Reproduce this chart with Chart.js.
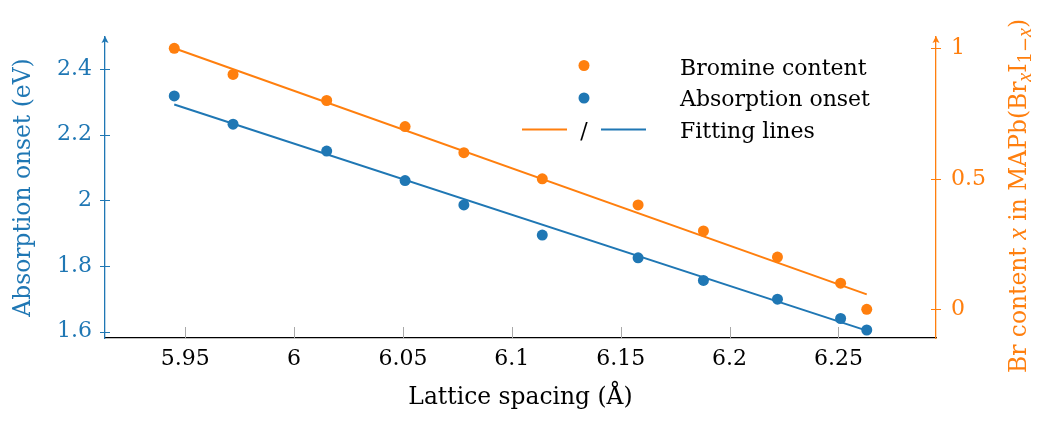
<!DOCTYPE html>
<html>
<head>
<meta charset="utf-8">
<title>Lattice spacing vs. absorption onset</title>
<script src="https://cdn.jsdelivr.net/npm/chart.js@4.4.1/dist/chart.umd.min.js"></script>
<style>
    html, body { margin: 0; padding: 0; background: #fff; }
    #wrap { width: 1039px; height: 421px; }
</style>
</head>
<body>
<div id="wrap"><canvas id="latticeChart" width="1039" height="421"></canvas></div>
<script>
// measured samples (lattice spacing in Å)
const latticeSpacing = [5.945, 5.972, 6.015, 6.051, 6.078, 6.114, 6.158, 6.188, 6.222, 6.251, 6.263]
const bromineContent = [1.0, 0.9, 0.8, 0.7, 0.6, 0.5, 0.4, 0.3, 0.2, 0.1, 0.0]
const absorptionOnset = [2.318, 2.232, 2.150, 2.060, 1.986, 1.894, 1.825, 1.756, 1.699, 1.640, 1.605]

// end points of the two linear fits
const fitSpacing = [5.945, 6.263]
const fitBromine = [1.0, 0.057]
const fitOnset = [2.292, 1.603]

const xTicks = [5.95, 6, 6.05, 6.1, 6.15, 6.2, 6.25]
const onsetTicks = [1.6, 1.8, 2, 2.2, 2.4]
const bromineTicks = [0, 0.5, 1]

const BLUE = '#1f77b4'
const ORANGE = '#ff7f0e'
const FONT = 'DejaVu Serif'
const MATH_FONT = 'Liberation Serif'
const FONT_SIZE = 22
const TITLE_SIZE = 23.4

const toPoints = (xs, ys) => xs.map((x, i) => ({ x: x, y: ys[i] }))
const fixedTicks = (values) => (scale) => {
    scale.ticks = values.map((v) => ({ value: v }))
}

Chart.defaults.font.family = FONT
Chart.defaults.font.size = FONT_SIZE
Chart.defaults.color = '#000'

// tick marks, axis arrows, legend and the right-hand title
const axisDecor = {
    id: 'axisDecor',
    afterDraw(chart) {
        const { ctx, chartArea } = chart
        const xs = chart.scales.x
        const yl = chart.scales.yOnset
        const yr = chart.scales.yBr
        ctx.save()

        ctx.lineWidth = 1
        ctx.strokeStyle = '#a9a9a9'
        xs.ticks.forEach((t) => {
            const px = Math.round(xs.getPixelForValue(t.value)) + 0.5
            ctx.beginPath()
            ctx.moveTo(px, chartArea.bottom)
            ctx.lineTo(px, chartArea.bottom - 11)
            ctx.stroke()
        })

        const sideTicks = (scale, x, color) => {
            ctx.strokeStyle = color
            scale.ticks.forEach((t) => {
                const py = Math.round(scale.getPixelForValue(t.value)) + 0.5
                ctx.beginPath()
                ctx.moveTo(x - 5, py)
                ctx.lineTo(x + 5, py)
                ctx.stroke()
            })
        }
        sideTicks(yl, chartArea.left, BLUE)
        sideTicks(yr, chartArea.right, ORANGE)

        const arrow = (x, color) => {
            ctx.fillStyle = color
            ctx.beginPath()
            ctx.moveTo(x, chartArea.top - 1)
            ctx.lineTo(x - 3.5, chartArea.top + 6)
            ctx.lineTo(x, chartArea.top + 4.5)
            ctx.lineTo(x + 3.5, chartArea.top + 6)
            ctx.closePath()
            ctx.fill()
        }
        arrow(chartArea.left, BLUE)
        arrow(chartArea.right, ORANGE)

        // legend
        const lx = 584
        const tx = 680
        ctx.fillStyle = ORANGE
        ctx.beginPath()
        ctx.arc(lx, 65.5, 5.5, 0, Math.PI * 2)
        ctx.fill()
        ctx.fillStyle = BLUE
        ctx.beginPath()
        ctx.arc(lx, 98, 5.5, 0, Math.PI * 2)
        ctx.fill()
        ctx.lineWidth = 2
        ctx.strokeStyle = ORANGE
        ctx.beginPath()
        ctx.moveTo(522, 129.5)
        ctx.lineTo(567, 129.5)
        ctx.stroke()
        ctx.strokeStyle = BLUE
        ctx.beginPath()
        ctx.moveTo(601, 129.5)
        ctx.lineTo(646, 129.5)
        ctx.stroke()

        ctx.font = FONT_SIZE + 'px ' + FONT
        ctx.fillStyle = '#000'
        ctx.textBaseline = 'alphabetic'
        ctx.textAlign = 'center'
        ctx.fillText('/', lx, 137.5)
        ctx.textAlign = 'left'
        ctx.fillText('Bromine content', tx, 74.5)
        ctx.fillText('Absorption onset', tx, 106)
        ctx.fillText('Fitting lines', tx, 137.5)

        // right axis title with italic x and subscripts, read bottom to top
        const big = TITLE_SIZE + 'px ' + FONT
        const subSize = Math.round(TITLE_SIZE * 0.75)
        const sub = subSize + 'px ' + FONT
        const parts = [
            { t: 'Br content ', f: big, dy: 0 },
            { t: 'x', f: 'italic ' + (TITLE_SIZE + 3) + 'px ' + MATH_FONT, dy: 0 },
            { t: ' in MAPb(Br', f: big, dy: 0 },
            { t: 'x', f: 'italic ' + (subSize + 2) + 'px ' + MATH_FONT, dy: 5 },
            { t: 'I', f: big, dy: 0 },
            { t: '1\u2212', f: sub, dy: 5 },
            { t: 'x', f: 'italic ' + (subSize + 2) + 'px ' + MATH_FONT, dy: 5 },
            { t: ')', f: big, dy: 0 }
        ]
        ctx.translate(1026, 373)
        ctx.rotate(-Math.PI / 2)
        ctx.fillStyle = ORANGE
        ctx.textAlign = 'left'
        let cx = 0
        parts.forEach((p) => {
            ctx.font = p.f
            ctx.fillText(p.t, cx, p.dy)
            cx += ctx.measureText(p.t).width
        })

        ctx.restore()
    }
}

const latticeChart = new Chart(document.getElementById('latticeChart'), {
    type: 'scatter',
    data: {
        datasets: [
            {
                label: 'Bromine content',
                data: toPoints(latticeSpacing, bromineContent),
                yAxisID: 'yBr',
                backgroundColor: ORANGE,
                borderWidth: 0,
                pointRadius: 5.5,
                order: 1
            },
            {
                label: 'Absorption onset',
                data: toPoints(latticeSpacing, absorptionOnset),
                yAxisID: 'yOnset',
                backgroundColor: BLUE,
                borderWidth: 0,
                pointRadius: 5.5,
                order: 1
            },
            {
                label: 'Fitting line (Br)',
                data: toPoints(fitSpacing, fitBromine),
                yAxisID: 'yBr',
                showLine: true,
                borderColor: ORANGE,
                borderWidth: 2,
                pointRadius: 0,
                order: 2
            },
            {
                label: 'Fitting line (onset)',
                data: toPoints(fitSpacing, fitOnset),
                yAxisID: 'yOnset',
                showLine: true,
                borderColor: BLUE,
                borderWidth: 2,
                pointRadius: 0,
                order: 2
            }
        ]
    },
    options: {
        responsive: false,
        animation: false,
        devicePixelRatio: 1,
        layout: { padding: { top: 37, left: 0, right: 0, bottom: 0 } },
        plugins: {
            legend: { display: false },
            tooltip: { enabled: false }
        },
        scales: {
            x: {
                type: 'linear',
                position: 'bottom',
                min: 5.9132,
                max: 6.2948,
                afterBuildTicks: fixedTicks(xTicks),
                afterFit: (s) => { s.height = 83 },
                grid: { display: false, drawTicks: false },
                border: { color: '#000', width: 1.3 },
                ticks: {
                    padding: 8,
                    autoSkip: false,
                    maxRotation: 0,
                    callback: (v) => String(v)
                },
                title: {
                    display: true,
                    text: 'Lattice spacing (Å)',
                    color: '#000',
                    font: { size: TITLE_SIZE },
                    padding: { top: 0, bottom: 9 }
                }
            },
            yOnset: {
                type: 'linear',
                position: 'left',
                min: 1.5806,
                max: 2.4975,
                afterBuildTicks: fixedTicks(onsetTicks),
                afterFit: (s) => { s.width = 105 },
                grid: { display: false, drawTicks: false },
                border: { color: BLUE, width: 1.3 },
                ticks: {
                    color: BLUE,
                    padding: 13,
                    autoSkip: false,
                    callback: (v) => String(v)
                },
                title: {
                    display: true,
                    text: 'Absorption onset (eV)',
                    color: BLUE,
                    font: { size: TITLE_SIZE },
                    padding: { top: 10, bottom: 0 }
                }
            },
            yBr: {
                type: 'linear',
                position: 'right',
                min: -0.110,
                max: 1.0433,
                afterBuildTicks: fixedTicks(bromineTicks),
                afterFit: (s) => { s.width = 103 },
                grid: { display: false, drawTicks: false },
                border: { color: ORANGE, width: 1.3 },
                ticks: {
                    color: ORANGE,
                    padding: 15,
                    autoSkip: false,
                    callback: (v) => String(v)
                }
            }
        }
    },
    plugins: [axisDecor]
})
</script>
</body>
</html>
